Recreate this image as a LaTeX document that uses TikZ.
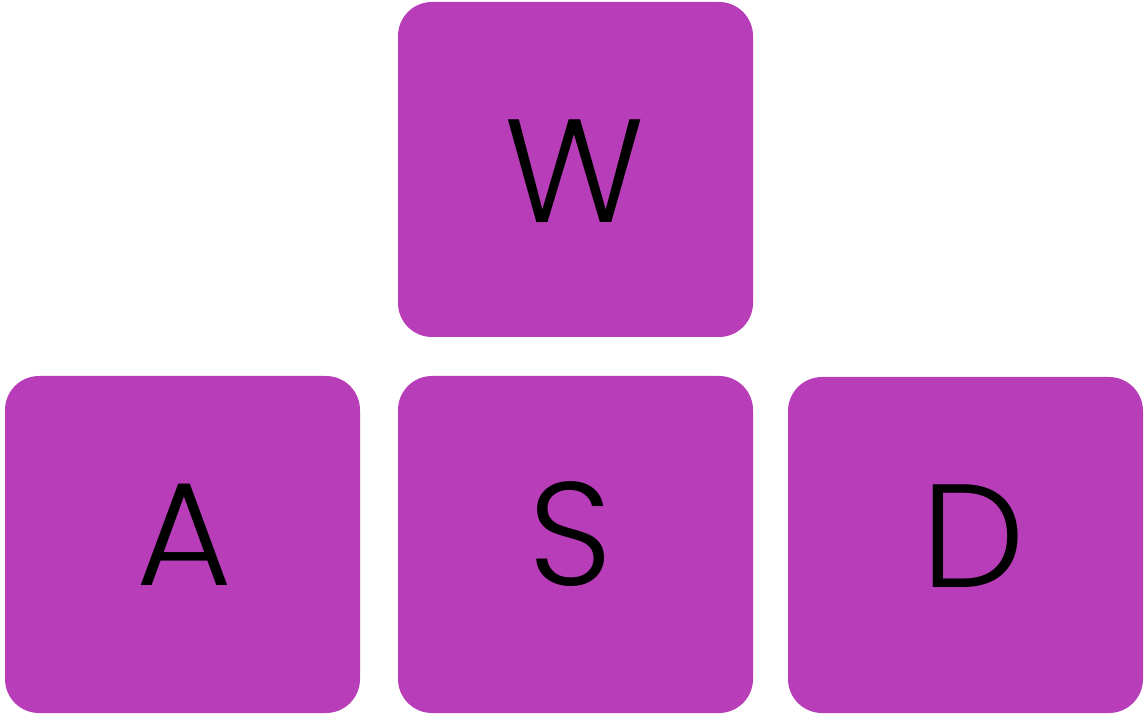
\documentclass[tikz,border=0pt]{standalone}
\usepackage{fontspec}
\setmainfont{Poppins Light}
\definecolor{keyfill}{HTML}{B83EB9}
\begin{document}
\begin{tikzpicture}[x=1pt,y=1pt,
  keybox/.style={fill=keyfill, rounded corners=34pt},
  keylabel/.style={anchor=base, inner sep=0pt, font=\fontsize{147}{147}\selectfont, text=black}]
\useasboundingbox (0,0) rectangle (1146,718);
% boxes (y = 718 - pixel y)
\fill[keybox] (398,381) rectangle (753,716);
\fill[keybox] (5,5) rectangle (360,342);
\fill[keybox] (398,5) rectangle (753,342);
\fill[keybox] (788,5) rectangle (1143,341);
\node[keylabel] (w) at (575,495) {W};
\node[keylabel] (a) at (184,132) {A};
\node[keylabel] (s) at (571,132) {S};
\node[keylabel] (d) at (973,131) {D};
\end{tikzpicture}
\end{document}
